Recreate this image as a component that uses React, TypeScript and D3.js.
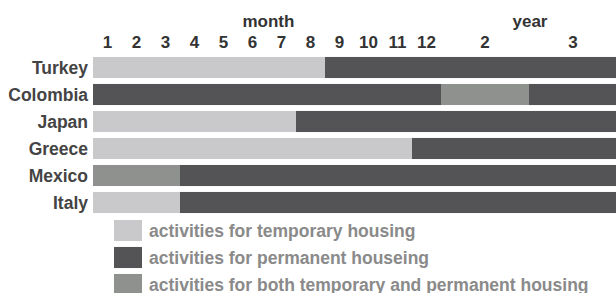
import React from 'react'
import * as d3 from 'd3'

// rows, top to bottom
const countries = ['Turkey', 'Colombia', 'Japan', 'Greece', 'Mexico', 'Italy']
// phase boundaries in months from start (0..36) and the kind of each phase
const phaseBounds = [
  [0, 8, 36],
  [0, 12, 24, 36],
  [0, 7, 36],
  [0, 11, 36],
  [0, 3, 36],
  [0, 3, 36],
]
const phaseKinds = [
  ['temp', 'perm'],
  ['perm', 'both', 'perm'],
  ['temp', 'perm'],
  ['temp', 'perm'],
  ['both', 'perm'],
  ['temp', 'perm'],
]
const monthTicks = [1, 2, 3, 4, 5, 6, 7, 8, 9, 10, 11, 12]
const yearTicks = [2, 3]
const legendKinds = ['temp', 'perm', 'both']
const legendLabels = [
  'activities for temporary housing',
  'activities for permanent houseing',
  'activities for both temporary and permanent housing',
]

const W = 616
const H = 293
const colors: Record<string, string> = { temp: '#c9c9cb', perm: '#545457', both: '#8f918f' }
const font = '"Liberation Sans", Arial, sans-serif'

export default function App() {
  // first year month by month, then whole years squeezed
  const x = d3.scaleLinear().domain([0, 12, 36]).range([93, 441, 617])
  const y = d3.scaleBand().domain(countries).range([54, 216]).paddingInner(0.22).paddingOuter(0.11)
  const ly = d3.scaleBand().domain(legendKinds).range([217, 298]).paddingInner(0.22).paddingOuter(0.11)

  return (
    <svg width={W} height={H} style={{ position: 'absolute', left: 0, top: 0 }} fontFamily={font}>
      <rect width={W} height={H} fill="#fff" />
      {/* axis titles */}
      <text x={x(6.05)} y={27} textAnchor="middle" fontSize={17} fontWeight="bold" fill="#333">month</text>
      <text x={x(18) + 45} y={27} textAnchor="middle" fontSize={17} fontWeight="bold" fill="#333">year</text>
      {monthTicks.map(m => (
        <text key={'m' + m} x={x(m - 0.5)} y={48} textAnchor="middle" fontSize={17} fontWeight="bold" fill="#333">{m}</text>
      ))}
      {yearTicks.map(yr => (
        <text key={'y' + yr} x={x((yr - 1) * 12 + 6)} y={48} textAnchor="middle" fontSize={17} fontWeight="bold" fill="#333">{yr}</text>
      ))}

      {/* bars */}
      {countries.map((c, i) => (
        <g key={c}>
          <text x={88} y={(y(c) as number) + y.bandwidth() / 2 + 6} textAnchor="end" fontSize={17.5} fontWeight="bold" fill="#444">{c}</text>
          {phaseKinds[i].map((k, j) => (
            <rect key={j} x={x(phaseBounds[i][j])} width={x(phaseBounds[i][j + 1]) - x(phaseBounds[i][j])}
              y={y(c)} height={y.bandwidth()} fill={colors[k]} />
          ))}
        </g>
      ))}

      {/* legend */}
      {legendKinds.map((k, i) => (
        <g key={k}>
          <rect x={114} y={ly(k)} width={28} height={ly.bandwidth()} fill={colors[k]} />
          <text x={149} y={(ly(k) as number) + ly.bandwidth() / 2 + 6} fontSize={17.5} fontWeight="bold" fill="#8a8a8a">{legendLabels[i]}</text>
        </g>
      ))}
    </svg>
  )
}
